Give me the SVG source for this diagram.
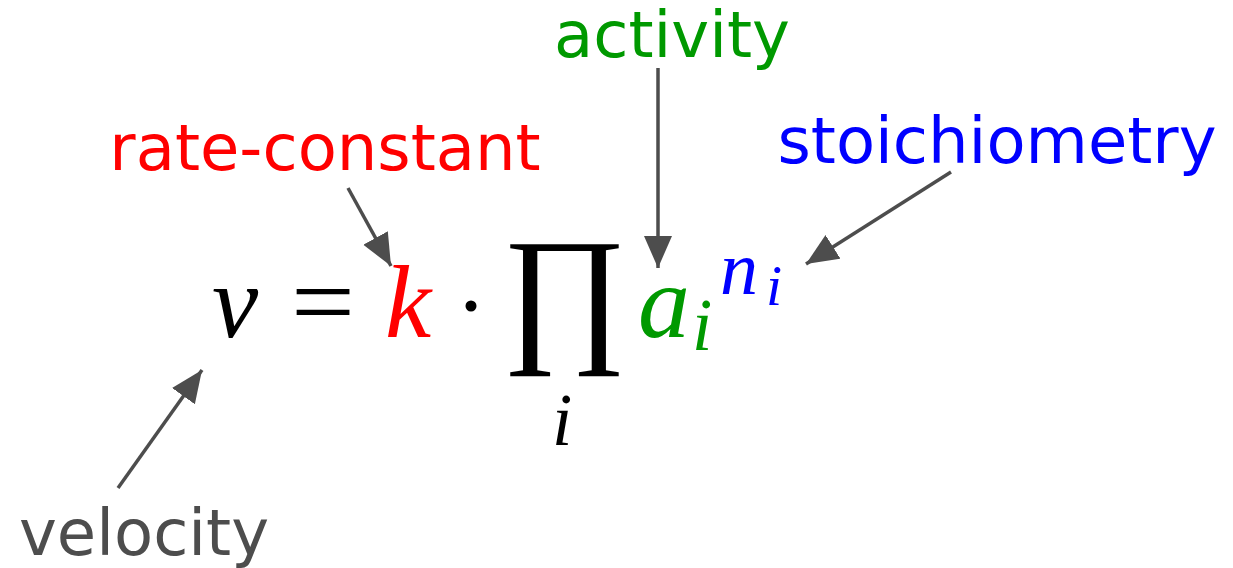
<svg xmlns="http://www.w3.org/2000/svg" width="1233" height="568" viewBox="0 0 1233 568">
<style>
.lbl{font-family:"DejaVu Sans",sans-serif;font-size:64px;text-anchor:middle}
.m{font-family:"Liberation Serif","DejaVu Serif",serif;font-style:italic}
.conn{stroke:#4d4d4d;stroke-width:3.5;fill:none;marker-end:url(#ah)}
</style>
<defs>
<marker id="ah" markerUnits="userSpaceOnUse" markerWidth="34" markerHeight="30" refX="32" refY="14" orient="auto">
<path d="M0,0 L32,14 L0,28 Z" fill="#4d4d4d"/>
</marker>
</defs>
<rect width="1233" height="568" fill="#ffffff"/>
<g id="connectors">
<line class="conn" x1="348" y1="188" x2="391" y2="266"/>
<line class="conn" x1="658" y1="68" x2="658" y2="268"/>
<line class="conn" x1="951" y1="172" x2="806" y2="264"/>
<line class="conn" x1="118" y1="488" x2="202" y2="370"/>
</g>
<g id="label-rate-constant"><text class="lbl" x="325" y="170" fill="#ff0000">rate-constant</text></g>
<g id="label-activity"><text class="lbl" x="672" y="57" fill="#009900">activity</text></g>
<g id="label-stoichiometry"><text class="lbl" x="997" y="163" fill="#0000ff">stoichiometry</text></g>
<g id="label-velocity"><text class="lbl" x="144" y="555" fill="#4d4d4d">velocity</text></g>
<g id="formula">
<text class="m" x="212" y="337" font-size="104" fill="#000">v</text>
<text x="291" y="337" font-family="'Liberation Serif',serif" font-size="104" fill="#000" textLength="64" lengthAdjust="spacingAndGlyphs">=</text>
<text class="m" x="385" y="337" font-size="104" fill="#ff0000">k</text>
<circle cx="471" cy="306" r="5.5" fill="#000"/>
<text x="502" y="344" font-family="'Liberation Serif',serif" font-size="152" fill="#000">∏</text>
<text class="m" x="552" y="445" font-size="73" fill="#000">i</text>
<text class="m" x="638" y="337" font-size="104" fill="#009900">a</text>
<text class="m" x="692" y="350" font-size="73" fill="#009900">i</text>
<text class="m" x="720" y="294" font-size="76" fill="#0000ff">n</text>
<text class="m" x="766" y="305" font-size="58" fill="#0000ff">i</text>
</g>
</svg>
